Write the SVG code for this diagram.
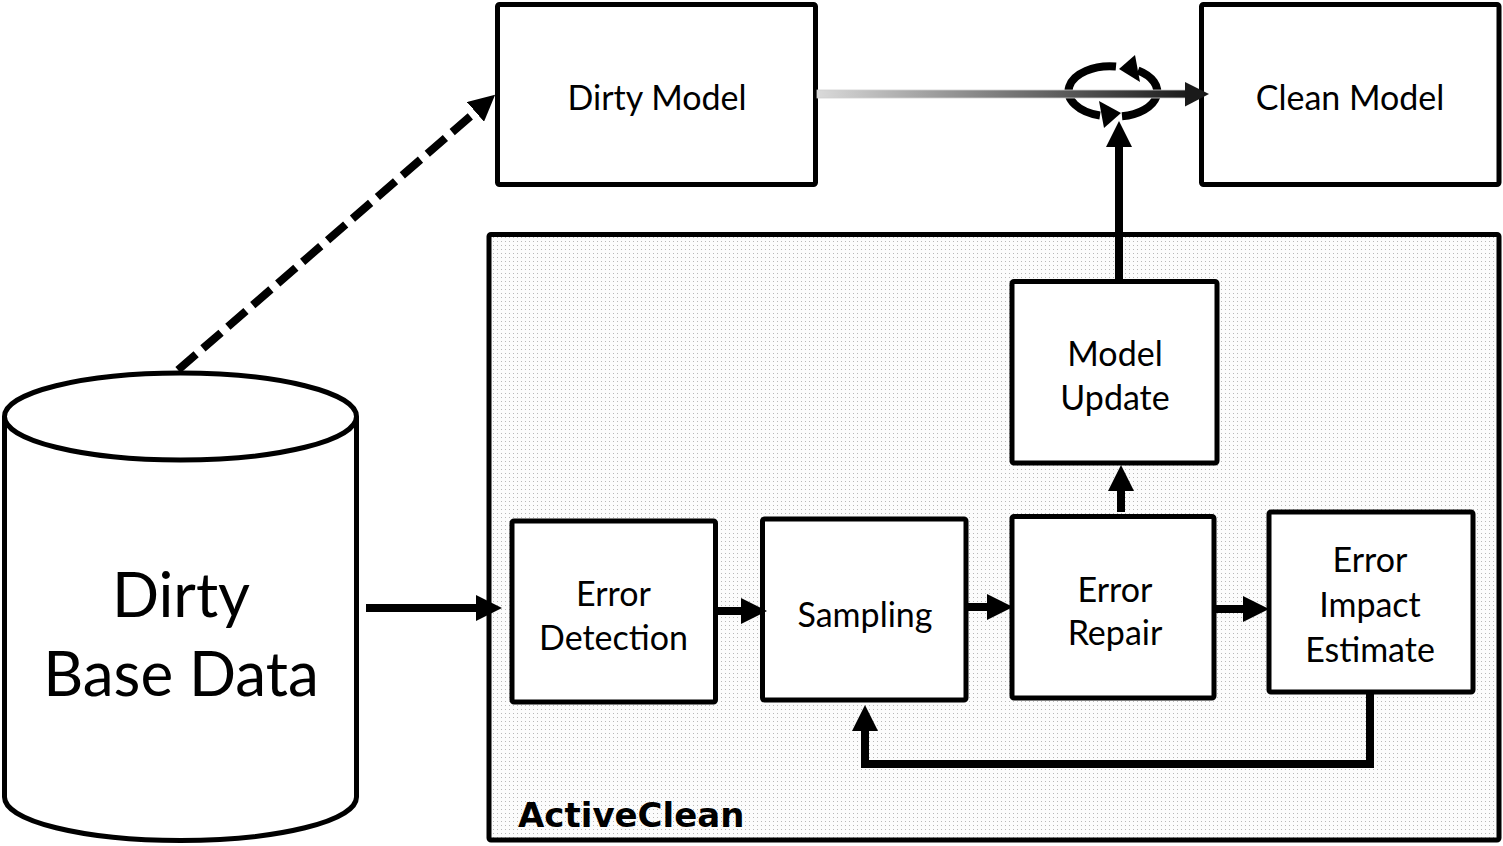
<svg xmlns="http://www.w3.org/2000/svg" width="1503" height="846" viewBox="0 0 1503 846">
  <style>
    .box { fill: #ffffff; stroke: #000000; stroke-width: 5; }
    .lbl { font-family: Lato, "Open Sans", "Liberation Sans", sans-serif; font-size: 34px; fill: #000000; text-anchor: middle; }
    .big { font-family: Lato, "Open Sans", "Liberation Sans", sans-serif; font-size: 62px; fill: #000000; text-anchor: middle; }
    .title { font-family: "DejaVu Sans", "Liberation Sans", sans-serif; font-weight: bold; font-size: 34px; fill: #000000; }
    .conn { fill: none; stroke: #000000; stroke-width: 8; }
    .head { fill: #000000; }
    .cycle { fill: none; stroke: #000000; stroke-width: 8; }
  </style>
  <defs>
    <pattern id="dots" width="4" height="4" patternUnits="userSpaceOnUse">
      <rect width="4" height="4" fill="#fcfcfc"/>
      <rect x="1" y="1" width="1" height="1" fill="#b8b8b8"/>
    </pattern>
    <linearGradient id="fade" gradientUnits="userSpaceOnUse" x1="817" y1="0" x2="1190" y2="0">
      <stop offset="0" stop-color="#dadada"/>
      <stop offset="1" stop-color="#1a1a1a"/>
    </linearGradient>
    <marker id="arrow" viewBox="0 0 26 26" refX="2" refY="13" markerWidth="26" markerHeight="26" markerUnits="userSpaceOnUse" orient="auto">
      <path d="M0,0 L26,13 L0,26 z" fill="#000000"/>
    </marker>
  </defs>

  <g id="activeclean">
    <rect x="489" y="234.5" width="1010" height="605.5" rx="2" fill="url(#dots)" stroke="#000000" stroke-width="5"/>
    <text class="title" x="518" y="827">ActiveClean</text>
  </g>

  <g id="dirty-base-data">
    <path d="M4.5,416.5 L4.5,797 A176,43.5 0 0 0 356.5,797 L356.5,416.5" fill="#ffffff" stroke="#000000" stroke-width="5"/>
    <ellipse cx="180.5" cy="416.5" rx="176" ry="43.5" fill="#ffffff" stroke="#000000" stroke-width="5"/>
    <text class="big" x="181" y="617">Dirty</text>
    <text class="big" x="181" y="696">Base Data</text>
  </g>

  <g id="dirty-model">
    <rect class="box" x="497.5" y="4.5" width="318" height="180" rx="2"/>
    <text class="lbl" x="657" y="110">Dirty Model</text>
  </g>

  <g id="clean-model">
    <rect class="box" x="1201.5" y="4.5" width="297.5" height="180" rx="2"/>
    <text class="lbl" x="1350" y="110">Clean Model</text>
  </g>

  <g id="model-update">
    <rect class="box" x="1012" y="281.5" width="205" height="181.5" rx="2"/>
    <text class="lbl" x="1115" y="366">Model</text>
    <text class="lbl" x="1115" y="410">Update</text>
  </g>

  <g id="error-detection">
    <rect class="box" x="512" y="521" width="203.5" height="181" rx="2"/>
    <text class="lbl" x="613.5" y="606">Error</text>
    <text class="lbl" x="613.5" y="650">Detection</text>
  </g>

  <g id="sampling">
    <rect class="box" x="762.5" y="519" width="203.5" height="181" rx="2"/>
    <text class="lbl" x="865" y="627">Sampling</text>
  </g>

  <g id="error-repair">
    <rect class="box" x="1012" y="516.5" width="202" height="181.5" rx="2"/>
    <text class="lbl" x="1115" y="602">Error</text>
    <text class="lbl" x="1115" y="645">Repair</text>
  </g>

  <g id="error-impact-estimate">
    <rect class="box" x="1269" y="512" width="204" height="180" rx="2"/>
    <text class="lbl" x="1370" y="572">Error</text>
    <text class="lbl" x="1370" y="617">Impact</text>
    <text class="lbl" x="1370" y="662">Estimate</text>
  </g>

  <g id="connectors">
    <line x1="178" y1="370" x2="477" y2="110.6" stroke="#000000" stroke-width="8" stroke-dasharray="24 9" marker-end="url(#arrow)"/>
    <line class="conn" x1="366" y1="608" x2="478" y2="608" marker-end="url(#arrow)"/>
    <line class="conn" x1="716" y1="611" x2="743" y2="611" marker-end="url(#arrow)"/>
    <line class="conn" x1="967" y1="607" x2="989" y2="607" marker-end="url(#arrow)"/>
    <line class="conn" x1="1215" y1="609" x2="1245" y2="609" marker-end="url(#arrow)"/>
    <line class="conn" x1="1121" y1="512" x2="1121" y2="489" marker-end="url(#arrow)"/>
    <line class="conn" x1="1119" y1="281" x2="1119" y2="145" marker-end="url(#arrow)"/>
    <polyline class="conn" points="1370,693 1370,764 865,764 865,729" marker-end="url(#arrow)"/>
    <path class="cycle" d="M1116,66.5 A41.5,25 0 0 0 1100,115.5"/>
    <polygon class="head" points="1099,101 1104,128 1121,113"/>
    <path class="cycle" d="M1122,116.3 A41.5,25 0 0 0 1138,70.5"/>
    <polygon class="head" points="1135,55 1140,82 1119,69"/>
    <rect x="817" y="90" width="369" height="8" fill="url(#fade)" stroke="#cfcfcf" stroke-width="0.8"/>
    <polygon points="1185,82 1209,94 1185,106.5" fill="#1a1a1a"/>
  </g>
</svg>
